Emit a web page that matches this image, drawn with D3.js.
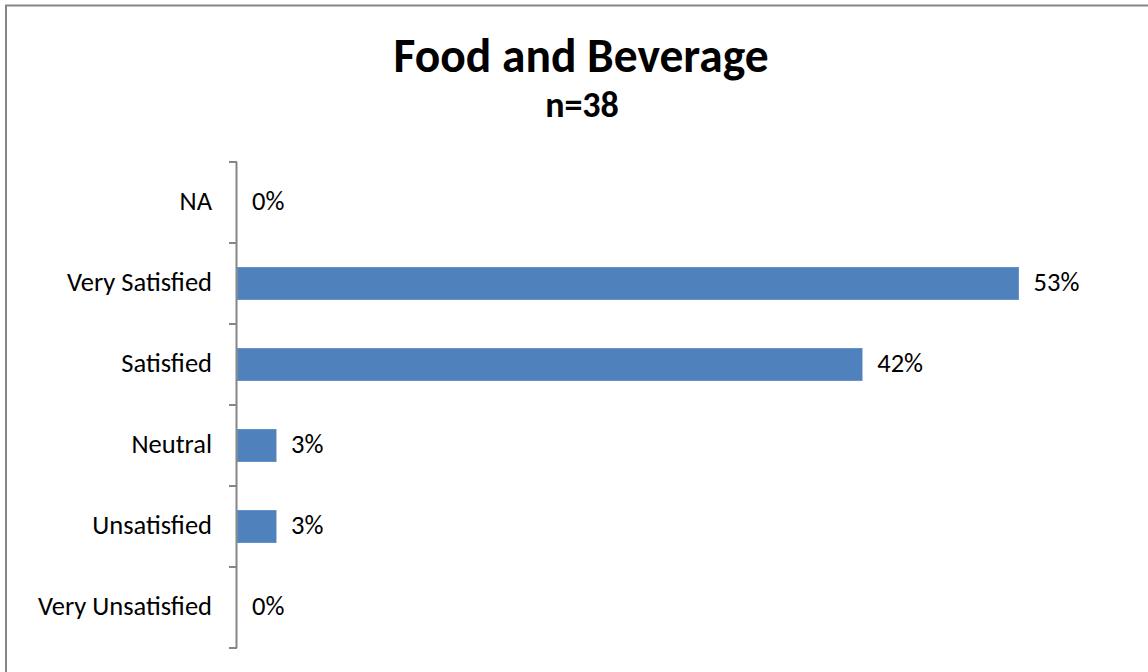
<!DOCTYPE html>
<html>
<head>
<meta charset="utf-8">
<script src="https://cdn.jsdelivr.net/npm/d3@7"></script>
<style>
  html, body { margin: 0; padding: 0; background: #fff; }
  svg { display: block; }
  text { font-family: Carlito, Calibri, "Open Sans", "Liberation Sans", sans-serif; fill: #000; }
</style>
</head>
<body>
<svg id="chart" width="1148" height="672"></svg>
<script>
// Survey responses (counts out of n), top to bottom
const categories = ["NA", "Very Satisfied", "Satisfied", "Neutral", "Unsatisfied", "Very Unsatisfied"];
const counts = [0, 20, 16, 1, 1, 0];
const respondents = 38;
const titleText = "Food and Beverage";
const subtitleText = "n=" + respondents;

const shares = counts.map(c => c / respondents);

const svg = d3.select("#chart");
const W = 1148, H = 672;

// Chart frame (runs off the right and bottom edges)
svg.append("rect")
  .attr("x", 6).attr("y", 5.5)
  .attr("width", W + 20).attr("height", H + 20)
  .attr("fill", "#fff")
  .attr("stroke", "#868686")
  .attr("stroke-width", 2);

const plot = { left: 237, right: 1128, top: 162, bottom: 648 };

const x = d3.scaleLinear().domain([0, 0.6]).range([plot.left, plot.right]);
const y = d3.scaleBand().domain(categories).range([plot.top, plot.bottom]).paddingInner(0.6).paddingOuter(0.3);

// Title
svg.append("text")
  .attr("x", 581).attr("y", 72)
  .attr("text-anchor", "middle")
  .attr("font-size", 47.5).attr("font-weight", "bold")
  .text(titleText);
svg.append("text")
  .attr("x", 582).attr("y", 117)
  .attr("text-anchor", "middle")
  .attr("font-size", 36).attr("font-weight", "bold")
  .text(subtitleText);

// Bars
svg.append("g").selectAll("rect")
  .data(categories)
  .join("rect")
  .attr("x", x(0))
  .attr("y", d => y(d))
  .attr("width", (d, i) => x(shares[i]) - x(0))
  .attr("height", y.bandwidth())
  .attr("fill", "#4f81bd")
  .attr("stroke", "#7aa0d0")
  .attr("stroke-width", 0.6)
  .attr("shape-rendering", "crispEdges");

// Value labels
const pct = d3.format(".0%");
svg.append("g").selectAll("text")
  .data(categories)
  .join("text")
  .attr("x", (d, i) => x(shares[i]) + 15)
  .attr("y", d => y(d) + y.bandwidth() / 2)
  .attr("dy", "0.3em")
  .attr("font-size", 26.5)
  .text((d, i) => pct(shares[i]));

// Category axis with ticks between categories
const axisG = svg.append("g");
axisG.append("line")
  .attr("x1", plot.left - 0.5).attr("x2", plot.left - 0.5)
  .attr("y1", plot.top).attr("y2", plot.bottom)
  .attr("stroke", "#868686").attr("stroke-width", 2);
const step = (plot.bottom - plot.top) / categories.length;
axisG.selectAll("line.tick")
  .data(d3.range(categories.length + 1))
  .join("line")
  .attr("class", "tick")
  .attr("x1", plot.left - 8).attr("x2", plot.left)
  .attr("y1", i => plot.top + i * step)
  .attr("y2", i => plot.top + i * step)
  .attr("stroke", "#868686").attr("stroke-width", 2);

axisG.selectAll("text")
  .data(categories)
  .join("text")
  .attr("x", plot.left - 25)
  .attr("y", d => y(d) + y.bandwidth() / 2)
  .attr("dy", "0.3em")
  .attr("text-anchor", "end")
  .attr("font-size", 26.5)
  .text(d => d);
</script>
</body>
</html>
